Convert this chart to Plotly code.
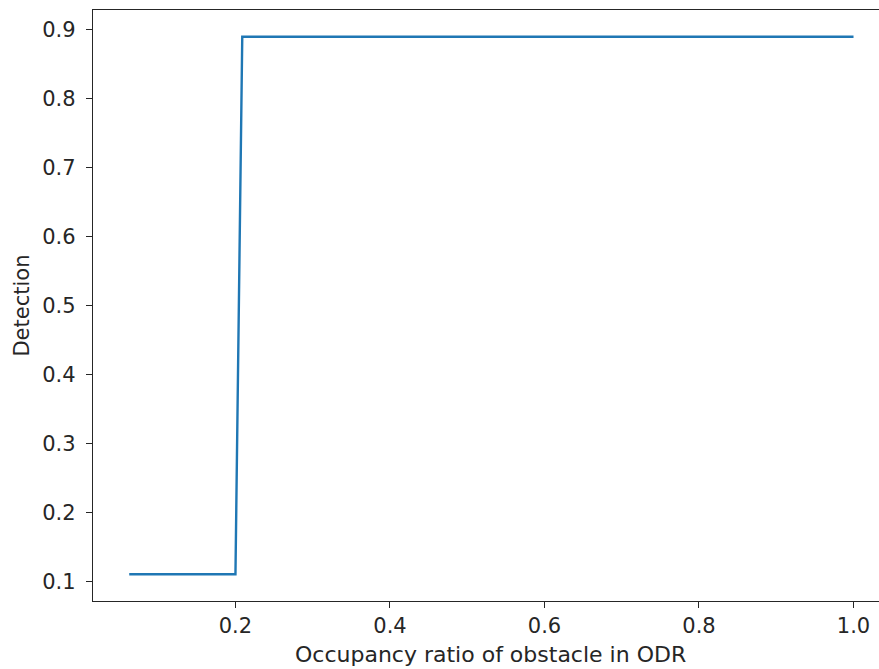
import plotly.graph_objects as go

# Data
occupancy = [0.0625, 0.2, 0.2088, 1.0]
detection = [0.111, 0.111, 0.889, 0.889]

x_ticks = [0.2, 0.4, 0.6, 0.8, 1.0]
x_labels = ["0.2", "0.4", "0.6", "0.8", "1.0"]
y_ticks = [0.1, 0.2, 0.3, 0.4, 0.5, 0.6, 0.7, 0.8, 0.9]
y_labels = ["0.1", "0.2", "0.3", "0.4", "0.5", "0.6", "0.7", "0.8", "0.9"]

FONT = "DejaVu Sans"

fig = go.Figure()
fig.add_trace(go.Scatter(
    x=occupancy, y=detection, mode="lines",
    line=dict(color="#1f77b4", width=2.4),
    showlegend=False,
))

fig.update_layout(
    width=879, height=669,
    margin=dict(l=93, r=0, t=10, b=68),
    paper_bgcolor="white", plot_bgcolor="white",
    font=dict(family=FONT, size=21, color="#262626"),
    xaxis=dict(
        range=[0.0156, 1.033], tickvals=x_ticks, ticktext=x_labels,
        showgrid=False, zeroline=False,
        showline=True, linecolor="#262626", linewidth=1.3, mirror=True,
        ticks="outside", ticklen=6, tickwidth=1.3, tickcolor="#262626",
        tickfont=dict(family=FONT, size=21, color="#262626"),
    ),
    yaxis=dict(
        range=[0.0722, 0.9278], tickvals=y_ticks, ticktext=y_labels,
        showgrid=False, zeroline=False,
        showline=True, linecolor="#262626", linewidth=1.3, mirror=False,
        ticks="outside", ticklen=6, tickwidth=1.3, tickcolor="#262626",
        ticklabelstandoff=6,
        tickfont=dict(family=FONT, size=21, color="#262626"),
    ),
    annotations=[
        dict(text="Occupancy ratio of obstacle in ODR", xref="paper", yref="paper",
             x=0.506, y=-0.091, xanchor="center", yanchor="middle", showarrow=False,
             font=dict(family=FONT, size=22, color="#262626")),
        dict(text="Detection", xref="paper", yref="paper",
             x=-0.0915, y=0.5, xanchor="center", yanchor="middle", showarrow=False,
             textangle=-90, font=dict(family=FONT, size=21, color="#262626")),
    ],
)

fig.write_html(
    "out.html",
    config={"displayModeBar": False},
    post_script="document.body.style.margin='0';document.body.style.overflow='hidden';",
)
